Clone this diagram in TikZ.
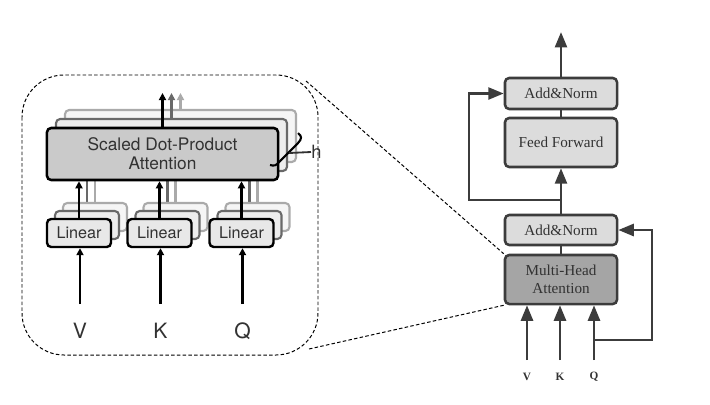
\documentclass[tikz,border=0pt]{standalone}
\usepackage{fontspec}
\setmainfont{Liberation Serif}
\newfontfamily\helvfont{TeX Gyre Heros}
\usepackage{tikz}
\usetikzlibrary{arrows.meta,positioning,calc}
\definecolor{linegray}{RGB}{60,60,60}
\definecolor{boxlight}{RGB}{220,220,220}
\definecolor{boxdark}{RGB}{165,165,165}
\definecolor{sdpafill}{RGB}{202,202,202}
\definecolor{linfill}{RGB}{232,232,232}
\definecolor{txtgray}{RGB}{50,50,50}
\definecolor{copymid}{RGB}{105,105,105}
\definecolor{copylight}{RGB}{170,170,170}

\tikzset{
  encbox/.style={draw=linegray, line width=1.8pt, rounded corners=3pt, fill=boxlight,
    minimum width=2.8cm, inner sep=0pt, text=txtgray, align=center,
    font=\fontsize{10.8}{12.8}\selectfont},
  sdpabox/.style={draw=black, line width=1.8pt, rounded corners=3pt, fill=sdpafill,
    minimum width=5.775cm, minimum height=1.3cm, inner sep=0pt, text=txtgray, align=center,
    font=\helvfont\fontsize{12.3}{13.6}\selectfont},
  linbox/.style={draw=black, line width=1.7pt, rounded corners=3pt, fill=linfill,
    minimum width=1.6cm, minimum height=0.7cm, inner sep=0pt, text=txtgray,
    font=\helvfont\fontsize{11.5}{13}\selectfont},
  ghost/.style={line width=1.5pt, rounded corners=3pt, fill=black!5, inner sep=0pt},
  rarrow/.style={draw=linegray, line width=1.9pt, -{Triangle[length=11pt,width=8.5pt]}},
  larrow/.style={line width=1.7pt, -{Triangle[length=5pt,width=5pt]}},
}

\begin{document}
\begin{tikzpicture}[x=0.025cm, y=-0.025cm]
\useasboundingbox (0,0) rectangle (710,404);

% encoder layer, right
\node[encbox, minimum height=0.775cm] (addtop) at (561,93.5) {Add\&Norm};
\node[encbox, minimum height=1.225cm] (ff) at (561,142.5) {Feed Forward};
\node[encbox, minimum height=0.75cm] (addlow) at (561,230) {Add\&Norm};
\node[encbox, minimum height=1.225cm, fill=boxdark] (mha) at (561,279.5) {Multi-Head\\Attention};
\coordinate (out) at (561,32);
\coordinate (r1) at (561,200);
\coordinate (rl) at (469,200);
\draw[rarrow] (addtop.north) -- (out);
\draw[draw=linegray, line width=1.9pt] (ff.north) -- (addtop.south);
\draw[draw=linegray, line width=1.9pt] (mha.north) -- (addlow.south);
\draw[rarrow] (addlow.north) -- (ff.south);
\draw[rarrow] (r1) -- (rl) |- (addtop.west);
\foreach \n/\x/\lab in {v/527/V, k/560/K, q/594/Q} {
  \node[font=\bfseries\fontsize{8}{9}\selectfont, text=txtgray] (\n lab) at (\x,377) {\lab};
  \coordinate (\n in) at (\x,360);
  \draw[rarrow] (\n in) -- (\n in |- mha.south);
}
\coordinate (qb) at (594,340);
\draw[rarrow] (qb) -- (652,340) |- (addlow.east);

% zoomed multi-head attention, left
\draw[dashed, dash pattern=on 2.5pt off 1.6pt, line width=0.7pt, rounded corners=1.05cm] (22,75) rectangle (318,355);
\coordinate (zt) at (306,81);
\coordinate (zb) at (309,349);
\draw[dashed, dash pattern=on 2.5pt off 1.6pt, line width=0.7pt] (zt) -- (mha.north west);
\draw[dashed, dash pattern=on 2.5pt off 1.6pt, line width=0.7pt] (zb) -- (mha.south west);

\node[sdpabox, ghost, draw=copylight, fill=black!4] (sdpa3) at (180.5,136) {};
\node[sdpabox, ghost, draw=copymid, fill=black!7] (sdpa2) at (171.5,145) {};
\draw[larrow, copylight] (sdpa3.north) -- (180.5,93);
\draw[larrow, copymid] (sdpa2.north) -- (171.5,93);
\foreach \n/\x in {lin1/79, lin2/159.5, lin3/241.5} {
  \draw[copylight, line width=1.5pt] (\x+16,203) -- (\x+16,162);
  \draw[copymid, line width=1.5pt] (\x+8,211) -- (\x+8,171);
}
\node[sdpabox] (sdpa) at (162.5,154) {Scaled Dot-Product\\Attention};
\draw[larrow, black] (sdpa.north) -- (162.5,93);

\foreach \n/\x/\lab in {lin1/79/V, lin2/159.5/K, lin3/241.5/Q} {
  \node[linbox, ghost, draw=copylight, fill=black!4] (\n c2) at (\x+16,217) {};
  \node[linbox, ghost, draw=copymid, fill=black!7] (\n c1) at (\x+8,225) {};
  \node[linbox] (\n) at (\x,233) {Linear};
  \draw[larrow] (\n.north) -- (\n.north |- sdpa.south);
  \node[font=\helvfont\fontsize{15}{17}\selectfont, text=txtgray] (\n lab) at (\x+1,331) {\lab};
  \coordinate (\n in) at (\x+1,304);
  \draw[larrow] (\n in) -- (\n in |- \n.south);
}

% h bracket
\node[font=\helvfont\fontsize{13}{15}\selectfont, text=txtgray, anchor=west, inner sep=0pt] (hlab) at (311,152) {h};
\draw[line width=1.5pt] (298,133) .. controls (302,136) and (302,139) .. (298,143) -- (279,162)
  .. controls (276,166) and (274,166) .. (270,165);
\draw[line width=1.3pt, txtgray] (289,153) -- (hlab.west);
\end{tikzpicture}
\end{document}
